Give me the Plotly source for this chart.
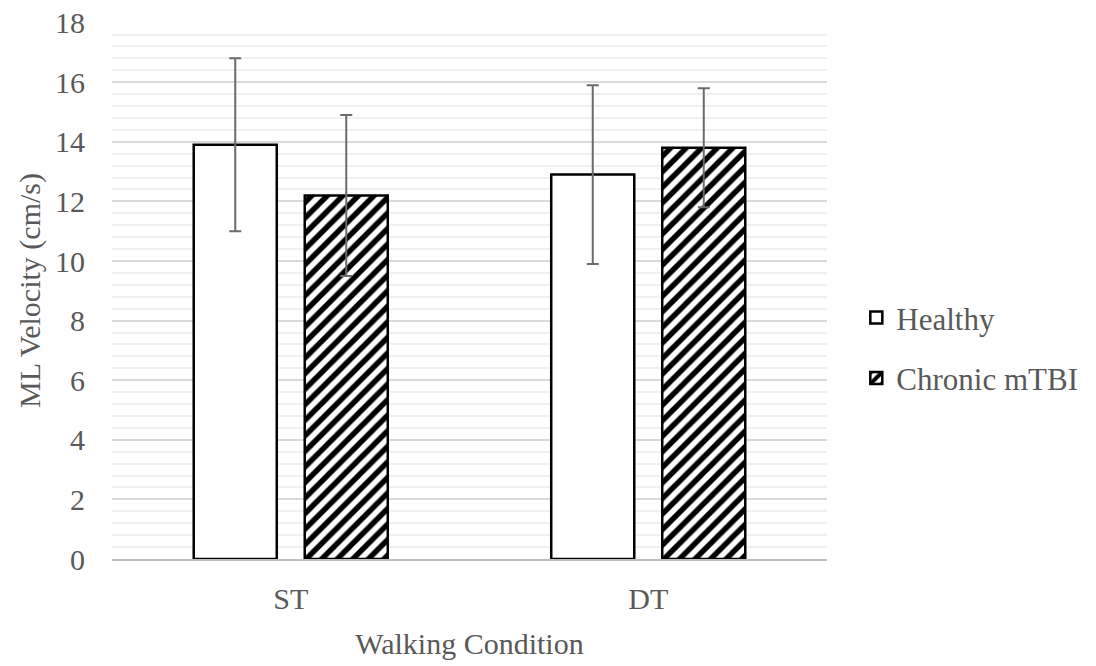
import plotly.graph_objects as go

conditions = ["ST", "DT"]
healthy_mean = [13.9, 12.9]
healthy_sd = [2.9, 3.0]
mtbi_mean = [12.2, 13.8]
mtbi_sd = [2.7, 2.0]

FONT = "Liberation Serif, Times New Roman, serif"
TXT = "#595959"

fig = go.Figure()
fig.add_trace(go.Bar(
    name="Healthy", x=conditions, y=healthy_mean,
    marker=dict(color="white", line=dict(color="black", width=2.5)),
    error_y=dict(type="data", array=healthy_sd, visible=True, color="#6b6b6b", thickness=2, width=6),
    legendgroup="a",
))
fig.add_trace(go.Bar(
    name="Chronic mTBI", x=conditions, y=mtbi_mean,
    marker=dict(color="white", line=dict(color="black", width=2.5),
                pattern=dict(shape="/", fgcolor="#000000", fgopacity=1, bgcolor="white",
                             size=11, solidity=0.5)),
    error_y=dict(type="data", array=mtbi_sd, visible=True, color="#6b6b6b", thickness=2, width=6),
    legendgroup="b",
))

fig.update_layout(
    width=1096, height=666,
    margin=dict(l=112, r=269, t=22, b=107, autoexpand=False),
    paper_bgcolor="white", plot_bgcolor="white",
    font=dict(family=FONT, size=30, color=TXT),
    barmode="group", bargap=0.379, bargroupgap=0.252,
    showlegend=True,
    legend=dict(x=1.041, xanchor="left", y=0.393, yanchor="middle",
                font=dict(family=FONT, size=31, color=TXT),
                tracegroupgap=17, bgcolor="rgba(0,0,0,0)"),
    xaxis=dict(title=dict(text="Walking Condition", standoff=19, font=dict(size=30, color=TXT)),
               showline=True, linecolor="#bfbfbf", linewidth=1.5, ticks="",
               automargin=False, ticklabelstandoff=12,
               tickfont=dict(size=30, color=TXT)),
    yaxis=dict(title=dict(text="ML Velocity (cm/s)", standoff=5, font=dict(size=30, color=TXT)),
               range=[0, 18.02], tick0=0, dtick=2, showgrid=True, gridcolor="#d9d9d9", gridwidth=1.5,
               zeroline=False, showline=False, ticks="", automargin=False,
               ticklabelstandoff=26, ticklabeloverflow="allow",
               tickfont=dict(size=30, color=TXT),
               minor=dict(dtick=0.4, showgrid=True, gridcolor="#f0f0f0", gridwidth=1.5)),
)

# remove the default 8px page margin so the figure fills the window exactly
fig.write_html("out.html", config={"displayModeBar": False},
               post_script="document.body.style.margin='0';")
